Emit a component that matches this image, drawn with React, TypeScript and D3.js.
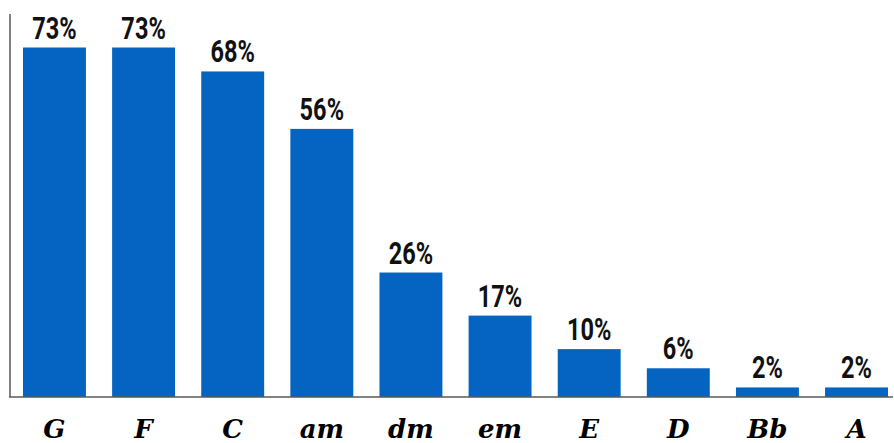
import React, { useEffect, useRef } from 'react';
import * as d3 from 'd3';

const chords = ['G', 'F', 'C', 'am', 'dm', 'em', 'E', 'D', 'Bb', 'A'];
const shares = [73, 73, 68, 56, 26, 17, 10, 6, 2, 2];

const width = 894;
const height = 443;

export default function App() {
  const svgRef = useRef<SVGSVGElement>(null);

  useEffect(() => {
    document.body.style.margin = '0';
    if (!svgRef.current) return;

    const svg = d3.select(svgRef.current);
    svg.selectAll('*').remove();

    const baseY = 397;

    const xScale = d3
      .scaleBand<string>()
      .domain(chords)
      .range([23, 888])
      .paddingInner(0.294)
      .paddingOuter(0);

    const yScale = d3.scaleLinear().domain([0, 80]).range([baseY, 14]);

    const data = chords.map((c, i) => ({ chord: c, value: shares[i] }));

    // Bars
    svg
      .selectAll('.bar')
      .data(data)
      .enter()
      .append('rect')
      .attr('class', 'bar')
      .attr('x', (d) => xScale(d.chord) || 0)
      .attr('y', (d) => yScale(d.value))
      .attr('width', xScale.bandwidth())
      .attr('height', (d) => baseY - yScale(d.value))
      .attr('fill', '#0563c1');

    // Axis lines
    svg
      .append('line')
      .attr('x1', 10)
      .attr('x2', 10)
      .attr('y1', yScale(80))
      .attr('y2', baseY)
      .attr('stroke', '#595959')
      .attr('stroke-width', 1.5);
    svg
      .append('line')
      .attr('x1', 9)
      .attr('x2', 893)
      .attr('y1', baseY)
      .attr('y2', baseY)
      .attr('stroke', '#595959')
      .attr('stroke-width', 1.5);

    // Value labels (condensed look via horizontal scale)
    svg
      .selectAll('.bar-label')
      .data(data)
      .enter()
      .append('text')
      .attr('class', 'bar-label')
      .attr(
        'transform',
        (d) =>
          `translate(${(xScale(d.chord) || 0) + xScale.bandwidth() / 2},${
            yScale(d.value) - 9
          }) scale(0.76,1)`
      )
      .attr('text-anchor', 'middle')
      .attr('font-family', 'Roboto, "Liberation Sans", sans-serif')
      .attr('font-weight', 'bold')
      .attr('font-size', '31px')
      .attr('fill', '#111')
      .text((d) => `${d.value}%`);

    // Category labels
    svg
      .selectAll('.cat-label')
      .data(data)
      .enter()
      .append('text')
      .attr('class', 'cat-label')
      .attr('x', (d) => (xScale(d.chord) || 0) + xScale.bandwidth() / 2)
      .attr('y', 438)
      .attr('text-anchor', 'middle')
      .attr('font-family', '"DejaVu Serif", serif')
      .attr('font-weight', 'bold')
      .attr('font-style', 'italic')
      .attr('font-size', '26px')
      .attr('fill', '#000')
      .text((d) => d.chord);
  }, []);

  return (
    <div>
      <svg ref={svgRef} width={width} height={height} style={{ display: 'block' }}></svg>
    </div>
  );
}
